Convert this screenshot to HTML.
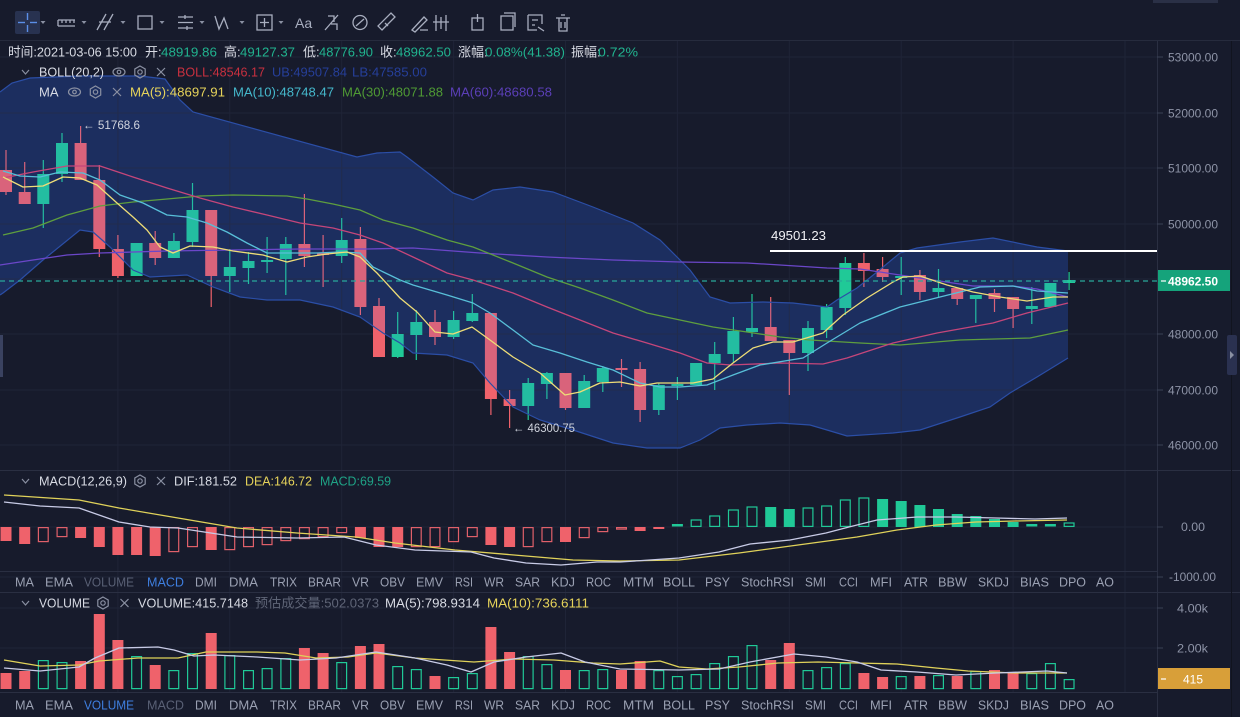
<!DOCTYPE html>
<html><head><meta charset="utf-8"><style>
html,body{margin:0;padding:0;background:#171b2c;width:1240px;height:717px;overflow:hidden}
svg{display:block}
text{font-family:"Liberation Sans","Noto Sans CJK SC",sans-serif}
</style></head><body>
<svg width="1240" height="717" viewBox="0 0 1240 717" xmlns="http://www.w3.org/2000/svg">
<defs>
<path id="band" d="M0,92 L12,83 L30,78 L80,76 L140,76 L165,79 L180,100 L193,112 L357,157 L377,153 L400,152 L407,157 L433,177 L453,193 L473,200 L493,190 L520,187 L553,192 L593,207 L633,223 L660,240 L690,270 L710,297 L730,303 L763,302 L793,303 L827,307 L837,300 L857,288 L877,272 L900,253 L917,248 L960,242 L993,238 L1037,247 L1068,251 L1068,358 L1037,377 L1010,393 L990,407 L960,417 L920,430 L893,433 L847,436 L827,430 L810,425 L780,423 L747,425 L720,428 L700,440 L680,448 L647,448 L613,443 L573,430 L540,420 L513,407 L490,383 L473,363 L447,355 L413,353 L400,343 L383,333 L360,317 L333,307 L300,300 L267,300 L240,297 L213,287 L187,275 L150,277 L133,270 L110,247 L93,232 L80,230 L43,260 L20,280 L3,293 L0,295 Z"/>
</defs>
<rect x="0" y="0" width="1240" height="717" fill="#171b2c"/>
<!-- toolbar -->
<rect x="1153" y="0" width="65" height="3" fill="#2a3046"/>
<line x1="0" y1="40.5" x2="1240" y2="40.5" stroke="#262b3d"/>
<rect x="15" y="11" width="25" height="23" rx="2" fill="#283250"/>
<g stroke="#5b8fe8" stroke-width="1.4"><line x1="18" y1="22.5" x2="25" y2="22.5"/><line x1="30" y1="22.5" x2="37" y2="22.5"/><line x1="27.5" y1="13" x2="27.5" y2="20"/><line x1="27.5" y1="25" x2="27.5" y2="32"/></g>
<g fill="#8a90a2"><polygon points="40.5,21 45.5,21 43,24"/><polygon points="81.5,21 86.5,21 84,24"/><polygon points="120.5,21 125.5,21 123,24"/><polygon points="159.5,21 164.5,21 162,24"/><polygon points="199.5,21 204.5,21 202,24"/><polygon points="239.5,21 244.5,21 242,24"/><polygon points="278.5,21 283.5,21 281,24"/></g>
<g stroke="#a8aebf" stroke-width="1.3" fill="none">
<path d="M58 26 H75 M58 26 V20 M62 20 V23 M66 20 V23 M70 20 V23 M74 20 V23 M58 20 H75"/>
<path d="M97 30 L106 14 M104 30 L113 14 M99 22 L111 22"/>
<rect x="138" y="16" width="14" height="13"/>
<path d="M178 17 H193 M178 22.5 H193 M178 28 H193 M185 15 V19 M187 26 V30"/>
<path d="M215 16 L219 29 L224 18 L228 29"/>
<rect x="257" y="15" width="15" height="15"/><path d="M264.5 18 V27 M260 22.5 H269"/>
<path d="M325 30 L338 15 M328 16 H334 V22 M331 24 H337 V30"/>
<circle cx="360" cy="22.5" r="7"/><path d="M356 26 L364 19"/>
<path d="M382 30 L395 17 L391 13 L378 26 Z M385 23 L388 26"/>
<path d="M412 30 L424 17 L427 20 L415 32 Z M420 30 H428"/>
<path d="M436 15 V31 M441 17 V29 M446 15 V31 M433 22 H449"/>
<rect x="472" y="18" width="11" height="12"/><path d="M477.5 14 V22"/>
<rect x="501" y="16" width="12" height="14"/><path d="M504 13 H515 V27"/>
<path d="M528 15 H542 V24 M528 15 V30 H537 M532 20 H538 M532 25 H535 M538 27 L544 31"/>
<path d="M556 18 H570 M559 18 V31 H567 V18 M561 15 H565 M561 22 V28 M565 22 V28"/>
</g>
<text x="295" y="28" font-size="14" fill="#a8aebf">Aa</text>

<!-- band fill under candles -->
<use href="#band" fill="rgba(30,95,235,0.17)"/>

<!-- grid -->
<g stroke="#1f2437" stroke-width="1">
<line x1="117.9" y1="41" x2="117.9" y2="693"/><line x1="229.8" y1="41" x2="229.8" y2="693"/><line x1="341.7" y1="41" x2="341.7" y2="693"/><line x1="453.6" y1="41" x2="453.6" y2="693"/><line x1="565.5" y1="41" x2="565.5" y2="693"/><line x1="677.4" y1="41" x2="677.4" y2="693"/><line x1="789.3" y1="41" x2="789.3" y2="693"/><line x1="901.2" y1="41" x2="901.2" y2="693"/><line x1="1013.1" y1="41" x2="1013.1" y2="693"/><line x1="1125" y1="41" x2="1125" y2="693"/>
<line x1="0" y1="57" x2="1157" y2="57"/><line x1="0" y1="113" x2="1157" y2="113"/><line x1="0" y1="168" x2="1157" y2="168"/><line x1="0" y1="224" x2="1157" y2="224"/><line x1="0" y1="279" x2="1157" y2="279"/><line x1="0" y1="334" x2="1157" y2="334"/><line x1="0" y1="390" x2="1157" y2="390"/><line x1="0" y1="445" x2="1157" y2="445"/>
<line x1="0" y1="527" x2="1157" y2="527"/><line x1="0" y1="577" x2="1157" y2="577"/>
<line x1="0" y1="608" x2="1157" y2="608"/><line x1="0" y1="648" x2="1157" y2="648"/>
</g>

<!-- candles red -->
<g fill="#ef626b" stroke="#ef626b" stroke-width="1.2">
<line x1="6" y1="150" x2="6" y2="195"/><rect x="0" y="170" width="12" height="22" stroke="none"/>
<line x1="24.7" y1="162" x2="24.7" y2="204"/><rect x="18.7" y="192" width="12" height="12" stroke="none"/>
<line x1="80.6" y1="126" x2="80.6" y2="180"/><rect x="74.6" y="143" width="12" height="37" stroke="none"/>
<line x1="99.3" y1="165" x2="99.3" y2="257"/><rect x="93.3" y="180" width="12" height="69" stroke="none"/>
<line x1="117.9" y1="235" x2="117.9" y2="278"/><rect x="111.9" y="249" width="12" height="27" stroke="none"/>
<line x1="155.2" y1="231" x2="155.2" y2="265"/><rect x="149.2" y="243" width="12" height="15" stroke="none"/>
<line x1="211.2" y1="210" x2="211.2" y2="307"/><rect x="205.2" y="210" width="12" height="66" stroke="none"/>
<line x1="304.4" y1="194" x2="304.4" y2="267"/><rect x="298.4" y="244" width="12" height="12" stroke="none"/>
<line x1="323.1" y1="235" x2="323.1" y2="287"/><rect x="317.1" y="253" width="12" height="2" stroke="none"/>
<line x1="360.4" y1="227" x2="360.4" y2="315"/><rect x="354.4" y="239" width="12" height="68" stroke="none"/>
<line x1="379" y1="298" x2="379" y2="357"/><rect x="373" y="306" width="12" height="51" stroke="none"/>
<line x1="435" y1="310" x2="435" y2="345"/><rect x="429" y="322" width="12" height="15" stroke="none"/>
<line x1="490.9" y1="313" x2="490.9" y2="415"/><rect x="484.9" y="313" width="12" height="86" stroke="none"/>
<line x1="509.6" y1="390" x2="509.6" y2="428"/><rect x="503.6" y="399" width="12" height="7" stroke="none"/>
<line x1="565.5" y1="373" x2="565.5" y2="410"/><rect x="559.5" y="373" width="12" height="35" stroke="none"/>
<line x1="621.5" y1="359" x2="621.5" y2="387"/><rect x="615.5" y="368" width="12" height="2" stroke="none"/>
<line x1="640.1" y1="362" x2="640.1" y2="422"/><rect x="634.1" y="369" width="12" height="41" stroke="none"/>
<line x1="770.7" y1="297" x2="770.7" y2="341"/><rect x="764.7" y="327" width="12" height="14" stroke="none"/>
<line x1="789.3" y1="340" x2="789.3" y2="395"/><rect x="783.3" y="340" width="12" height="13" stroke="none"/>
<line x1="863.9" y1="253" x2="863.9" y2="287"/><rect x="857.9" y="263" width="12" height="8" stroke="none"/>
<line x1="882.6" y1="257" x2="882.6" y2="282"/><rect x="876.6" y="269" width="12" height="8" stroke="none"/>
<line x1="919.9" y1="270" x2="919.9" y2="300"/><rect x="913.9" y="275" width="12" height="17" stroke="none"/>
<line x1="957.2" y1="288" x2="957.2" y2="305"/><rect x="951.2" y="288" width="12" height="11" stroke="none"/>
<line x1="994.5" y1="289" x2="994.5" y2="312"/><rect x="988.5" y="293" width="12" height="6" stroke="none"/>
<line x1="1013.1" y1="297" x2="1013.1" y2="328"/><rect x="1007.1" y="297" width="12" height="12" stroke="none"/>
</g>
<!-- candles green -->
<g fill="#20c997" stroke="#20c997" stroke-width="1.2">
<line x1="43.3" y1="160" x2="43.3" y2="228"/><rect x="37.3" y="174" width="12" height="30" stroke="none"/>
<line x1="62" y1="133" x2="62" y2="182"/><rect x="56" y="143" width="12" height="31" stroke="none"/>
<rect x="130.6" y="243" width="12" height="33" stroke="none"/>
<line x1="173.9" y1="233" x2="173.9" y2="258"/><rect x="167.9" y="241" width="12" height="17" stroke="none"/>
<line x1="192.5" y1="183" x2="192.5" y2="247"/><rect x="186.5" y="210" width="12" height="32" stroke="none"/>
<line x1="229.8" y1="249" x2="229.8" y2="292"/><rect x="223.8" y="267" width="12" height="9" stroke="none"/>
<line x1="248.5" y1="252" x2="248.5" y2="284"/><rect x="242.5" y="261" width="12" height="7" stroke="none"/>
<line x1="267.1" y1="237" x2="267.1" y2="273"/><rect x="261.1" y="260" width="12" height="2" stroke="none"/>
<line x1="285.8" y1="237" x2="285.8" y2="295"/><rect x="279.8" y="244" width="12" height="15" stroke="none"/>
<line x1="341.7" y1="218" x2="341.7" y2="263"/><rect x="335.7" y="240" width="12" height="16" stroke="none"/>
<line x1="397.7" y1="312" x2="397.7" y2="358"/><rect x="391.7" y="334" width="12" height="23" stroke="none"/>
<line x1="416.3" y1="310" x2="416.3" y2="360"/><rect x="410.3" y="322" width="12" height="13" stroke="none"/>
<line x1="453.6" y1="311" x2="453.6" y2="339"/><rect x="447.6" y="320" width="12" height="17" stroke="none"/>
<line x1="472.3" y1="294" x2="472.3" y2="322"/><rect x="466.3" y="313" width="12" height="8" stroke="none"/>
<line x1="528.2" y1="378" x2="528.2" y2="420"/><rect x="522.2" y="383" width="12" height="23" stroke="none"/>
<line x1="546.9" y1="372" x2="546.9" y2="399"/><rect x="540.9" y="373" width="12" height="11" stroke="none"/>
<line x1="584.2" y1="375" x2="584.2" y2="408"/><rect x="578.2" y="381" width="12" height="27" stroke="none"/>
<line x1="602.8" y1="366" x2="602.8" y2="392"/><rect x="596.8" y="368" width="12" height="14" stroke="none"/>
<line x1="658.8" y1="383" x2="658.8" y2="415"/><rect x="652.8" y="385" width="12" height="25" stroke="none"/>
<line x1="677.4" y1="377" x2="677.4" y2="400"/><rect x="671.4" y="384" width="12" height="2" stroke="none"/>
<rect x="690.1" y="363" width="12" height="22" stroke="none"/>
<line x1="714.7" y1="342" x2="714.7" y2="390"/><rect x="708.7" y="354" width="12" height="9" stroke="none"/>
<line x1="733.4" y1="317" x2="733.4" y2="363"/><rect x="727.4" y="331" width="12" height="23" stroke="none"/>
<line x1="752" y1="294" x2="752" y2="337"/><rect x="746" y="328" width="12" height="4" stroke="none"/>
<line x1="808" y1="321" x2="808" y2="371"/><rect x="802" y="328" width="12" height="25" stroke="none"/>
<line x1="826.6" y1="304" x2="826.6" y2="338"/><rect x="820.6" y="307" width="12" height="23" stroke="none"/>
<line x1="845.3" y1="257" x2="845.3" y2="315"/><rect x="839.3" y="263" width="12" height="45" stroke="none"/>
<line x1="901.2" y1="257" x2="901.2" y2="295"/><rect x="895.2" y="276" width="12" height="2" stroke="none"/>
<line x1="938.5" y1="269" x2="938.5" y2="297"/><rect x="932.5" y="288" width="12" height="4" stroke="none"/>
<line x1="975.8" y1="295" x2="975.8" y2="323"/><rect x="969.8" y="295" width="12" height="4" stroke="none"/>
<line x1="1031.8" y1="287" x2="1031.8" y2="324"/><rect x="1025.8" y="306" width="12" height="3" stroke="none"/>
<rect x="1044.4" y="283" width="12" height="24" stroke="none"/>
<line x1="1069.1" y1="272" x2="1069.1" y2="290"/><rect x="1063.1" y="280" width="12" height="3" stroke="none"/>
</g>

<!-- bollinger band overlay -->
<use href="#band" fill="rgba(60,110,240,0.12)"/>
<g fill="none" stroke="#2b4ea6" stroke-width="1.2">
<polyline points="0,92 12,83 30,78 80,76 140,76 165,79 180,100 193,112 357,157 377,153 400,152 407,157 433,177 453,193 473,200 493,190 520,187 553,192 593,207 633,223 660,240 690,270 710,297 730,303 763,302 793,303 827,307 837,300 857,288 877,272 900,253 917,248 960,242 993,238 1037,247 1068,251"/>
<polyline points="1068,358 1037,377 1010,393 990,407 960,417 920,430 893,433 847,436 827,430 810,425 780,423 747,425 720,428 700,440 680,448 647,448 613,443 573,430 540,420 513,407 490,383 473,363 447,355 413,353 400,343 383,333 360,317 333,307 300,300 267,300 240,297 213,287 187,275 150,277 133,270 110,247 93,232 80,230 43,260 20,280 3,293 0,295"/>
</g>

<!-- MA lines -->
<g fill="none" stroke-width="1.3" stroke-linejoin="round">
<polyline stroke="#6b47c9" points="0,265 33,260 67,255 100,253 167,251 233,250 300,249 367,249 413,248 480,253 547,257 613,260 680,262 747,263 780,265 827,268 860,269 900,275 933,280 973,286 1013,286 1037,289 1068,297"/>
<polyline stroke="#5e9e3e" points="3,235 33,228 67,215 100,206 133,202 167,199 200,196 233,195 287,196 307,199 333,204 360,210 383,220 413,228 447,240 473,247 513,263 547,277 580,288 613,300 647,313 680,320 713,327 747,332 780,337 810,340 860,343 900,345 960,340 1030,338 1068,330"/>
<polyline stroke="#c5467a" points="3,178 33,172 67,166 100,166 133,177 167,188 200,198 233,207 267,215 300,223 333,228 360,235 383,243 413,257 447,273 473,280 513,293 547,307 580,320 613,333 647,343 680,353 707,363 730,365 780,363 823,364 847,358 893,343 937,333 993,323 1027,313 1068,303"/>
<polyline stroke="#58bfd8" points="3,171 20,176 40,177 60,172 83,173 100,180 120,195 143,203 167,215 187,217 207,223 227,232 247,243 267,253 293,253 317,253 340,252 360,253 373,267 400,280 413,285 447,295 473,303 490,313 513,330 533,345 560,353 587,362 613,370 640,383 660,387 680,387 707,385 733,375 760,365 803,358 827,343 860,323 900,307 940,297 980,287 1013,286 1037,291 1068,293"/>
<polyline stroke="#eedd77" points="3,177 23,187 43,186 63,177 80,178 97,185 117,203 133,217 147,230 160,247 173,253 190,246 213,247 233,251 263,255 287,262 307,257 327,254 347,252 360,257 377,273 400,298 417,312 435,332 453,334 472,327 490,340 513,357 540,373 565,395 580,392 600,383 620,382 640,386 657,383 673,383 693,383 713,379 733,363 753,348 773,342 793,342 823,333 843,315 867,298 893,282 903,277 920,276 947,285 973,292 1000,297 1027,301 1053,297 1068,297"/>
</g>

<!-- price markers -->
<line x1="0" y1="281" x2="1157" y2="281" stroke="#2aa89a" stroke-width="1.2" stroke-dasharray="5,4"/>
<line x1="770" y1="251" x2="1157" y2="251" stroke="#ffffff" stroke-width="2"/>
<text x="771" y="240" font-size="13" fill="#f0f0f4" textLength="55" lengthAdjust="spacingAndGlyphs">49501.23</text>
<text x="83" y="129" font-size="12" fill="#d0d4de" textLength="57" lengthAdjust="spacingAndGlyphs">← 51768.6</text>
<text x="513" y="432" font-size="12" fill="#d0d4de" textLength="62" lengthAdjust="spacingAndGlyphs">← 46300.75</text>

<!-- MACD histogram -->
<g fill="#ef626b">
<rect x="0.5" y="527" width="11" height="14"/><rect x="19.2" y="527" width="11" height="17"/><rect x="75.1" y="527" width="11" height="11"/><rect x="93.8" y="527" width="11" height="20"/><rect x="112.4" y="527" width="11" height="28"/><rect x="131.1" y="527" width="11" height="28"/><rect x="149.7" y="527" width="11" height="29"/><rect x="205.7" y="527" width="11" height="23"/><rect x="354.9" y="527" width="11" height="11"/><rect x="373.5" y="527" width="11" height="20"/><rect x="392.2" y="527" width="11" height="20"/><rect x="485.4" y="527" width="11" height="18"/><rect x="504.1" y="527" width="11" height="20"/><rect x="560" y="527" width="11" height="15"/><rect x="634.6" y="527" width="11" height="4"/><rect x="653.3" y="527" width="11" height="2"/>
</g>
<g fill="none" stroke="#e0606a" stroke-width="1.2">
<rect x="38.4" y="527.6" width="9.8" height="14"/><rect x="57.1" y="527.6" width="9.8" height="9"/><rect x="168.9" y="527.6" width="9.8" height="24"/><rect x="187.6" y="527.6" width="9.8" height="19"/><rect x="224.9" y="527.6" width="9.8" height="22"/><rect x="243.6" y="527.6" width="9.8" height="19"/><rect x="262.2" y="527.6" width="9.8" height="17"/><rect x="280.9" y="527.6" width="9.8" height="13"/><rect x="299.5" y="527.6" width="9.8" height="11"/><rect x="318.2" y="527.6" width="9.8" height="9"/><rect x="336.8" y="527.6" width="9.8" height="5"/><rect x="411.4" y="527.6" width="9.8" height="19"/><rect x="430.1" y="527.6" width="9.8" height="19"/><rect x="448.7" y="527.6" width="9.8" height="14"/><rect x="467.4" y="527.6" width="9.8" height="9"/><rect x="523.3" y="527.6" width="9.8" height="19"/><rect x="542" y="527.6" width="9.8" height="14"/><rect x="579.3" y="527.6" width="9.8" height="10"/><rect x="597.9" y="527.6" width="9.8" height="4"/><rect x="616.6" y="527.6" width="9.8" height="1.5"/>
</g>
<g fill="#20c997">
<rect x="671.9" y="524" width="11" height="2.5"/><rect x="765.2" y="507" width="11" height="20"/><rect x="783.8" y="509" width="11" height="18"/><rect x="877.1" y="499" width="11" height="28"/><rect x="895.7" y="501" width="11" height="26"/><rect x="914.4" y="505" width="11" height="22"/><rect x="933" y="509" width="11" height="18"/><rect x="951.7" y="514" width="11" height="13"/><rect x="970.3" y="516" width="11" height="11"/><rect x="989" y="519" width="11" height="8"/><rect x="1007.6" y="522" width="11" height="5"/><rect x="1026.3" y="524" width="11" height="2.5"/><rect x="1044.9" y="524" width="11" height="2.5"/>
</g>
<g fill="none" stroke="#20c997" stroke-width="1.2">
<rect x="691.2" y="520" width="9.8" height="6.4"/><rect x="709.8" y="516" width="9.8" height="10.4"/><rect x="728.5" y="510" width="9.8" height="16.4"/><rect x="747.1" y="507" width="9.8" height="19.4"/><rect x="803.1" y="508" width="9.8" height="18.4"/><rect x="821.7" y="506" width="9.8" height="20.4"/><rect x="840.4" y="500" width="9.8" height="26.4"/><rect x="859" y="498" width="9.8" height="28.4"/><rect x="1064.2" y="523" width="9.8" height="3.4"/>
</g>
<g fill="none" stroke-width="1.3" stroke-linejoin="round">
<polyline stroke="#e0d25a" points="4,495 79,500 119,508 178,518 237,528 297,533 356,537 395,543 455,550 514,555 573,560 620,561 679,560 739,553 798,545 857,537 897,530 936,525 976,522 1015,521 1067,520"/>
<polyline stroke="#c8cbe6" points="4,502 40,506 79,508 119,522 150,527 178,528 237,537 297,538 344,537 376,545 415,550 471,552 494,558 526,563 561,565 597,562 620,562 679,558 719,552 750,544 790,540 826,533 849,527 877,520 917,517 956,517 996,518 1035,519 1067,518"/>
</g>

<!-- Volume bars -->
<g fill="#ef626b">
<rect x="0.5" y="673" width="11" height="16"/><rect x="19.2" y="671" width="11" height="18"/><rect x="75.1" y="661" width="11" height="28"/><rect x="93.8" y="614" width="11" height="75"/><rect x="112.4" y="640" width="11" height="49"/><rect x="149.7" y="665" width="11" height="24"/><rect x="205.7" y="633" width="11" height="56"/><rect x="298.9" y="648" width="11" height="41"/><rect x="317.6" y="653" width="11" height="36"/><rect x="354.9" y="646" width="11" height="43"/><rect x="373.5" y="644" width="11" height="45"/><rect x="429.5" y="676" width="11" height="13"/><rect x="485.4" y="627" width="11" height="62"/><rect x="504.1" y="652" width="11" height="37"/><rect x="560" y="670" width="11" height="19"/><rect x="616" y="670" width="11" height="19"/><rect x="634.6" y="661" width="11" height="28"/><rect x="765.2" y="660" width="11" height="29"/><rect x="783.8" y="643" width="11" height="46"/><rect x="858.4" y="673" width="11" height="16"/><rect x="877.1" y="677" width="11" height="12"/><rect x="914.4" y="676" width="11" height="13"/><rect x="951.7" y="676" width="11" height="13"/><rect x="989" y="670" width="11" height="19"/><rect x="1007.6" y="673" width="11" height="16"/>
</g>
<g fill="none" stroke="#20c997" stroke-width="1.2">
<rect x="38.4" y="660.6" width="9.8" height="28"/><rect x="57.1" y="662.6" width="9.8" height="26"/><rect x="131.7" y="656.6" width="9.8" height="32"/><rect x="168.9" y="670.6" width="9.8" height="18"/><rect x="187.6" y="653.6" width="9.8" height="35"/><rect x="224.9" y="655.6" width="9.8" height="33"/><rect x="243.6" y="670.6" width="9.8" height="18"/><rect x="262.2" y="668.6" width="9.8" height="20"/><rect x="280.9" y="658.6" width="9.8" height="30"/><rect x="336.8" y="662.6" width="9.8" height="26"/><rect x="392.8" y="666.6" width="9.8" height="22"/><rect x="411.4" y="669.6" width="9.8" height="19"/><rect x="448.7" y="677.6" width="9.8" height="11"/><rect x="467.4" y="673.6" width="9.8" height="15"/><rect x="523.3" y="656.6" width="9.8" height="32"/><rect x="542" y="664.6" width="9.8" height="24"/><rect x="579.3" y="670.6" width="9.8" height="18"/><rect x="597.9" y="669.6" width="9.8" height="19"/><rect x="653.9" y="670.6" width="9.8" height="18"/><rect x="672.5" y="676.6" width="9.8" height="12"/><rect x="691.2" y="674.6" width="9.8" height="14"/><rect x="709.8" y="663.6" width="9.8" height="25"/><rect x="728.5" y="656.6" width="9.8" height="32"/><rect x="747.1" y="645.6" width="9.8" height="43"/><rect x="803.1" y="670.6" width="9.8" height="18"/><rect x="821.7" y="667.6" width="9.8" height="21"/><rect x="840.4" y="663.6" width="9.8" height="25"/><rect x="896.3" y="676.6" width="9.8" height="12"/><rect x="933.6" y="675.6" width="9.8" height="13"/><rect x="970.9" y="671.6" width="9.8" height="17"/><rect x="1026.9" y="673.6" width="9.8" height="15"/><rect x="1045.5" y="663.6" width="9.8" height="25"/><rect x="1064.2" y="679.6" width="9.8" height="9"/>
</g>
<g fill="none" stroke-width="1.3" stroke-linejoin="round">
<polyline stroke="#e0d25a" points="4,660 40,666 79,665 99,661 138,658 178,658 206,652 257,652 285,653 316,658 348,657 376,653 415,658 474,662 514,659 554,660 593,663 620,664 660,661 679,667 707,669 739,667 778,663 818,662 857,663 897,664 936,668 968,671 1015,673 1067,673"/>
<polyline stroke="#c8cbe6" points="4,668 40,671 79,667 95,658 119,648 158,647 174,650 194,656 214,655 257,657 300,660 336,658 376,652 415,658 447,665 471,672 494,662 526,657 561,653 585,662 620,669 679,670 719,669 750,662 794,654 826,657 857,662 881,670 917,672 956,675 996,673 1047,671 1067,673"/>
</g>

<!-- separators -->
<g stroke="#2a2f42" stroke-width="1">
<line x1="0" y1="470.5" x2="1240" y2="470.5"/><line x1="0" y1="571.5" x2="1157" y2="571.5"/><line x1="0" y1="592.5" x2="1240" y2="592.5"/><line x1="0" y1="692.5" x2="1157" y2="692.5"/>
<line x1="1157.5" y1="41" x2="1157.5" y2="717"/>
</g>
<line x1="1231.5" y1="41" x2="1231.5" y2="717" stroke="#11141f"/>
<rect x="0" y="335" width="3" height="42" fill="#3a4260"/>
<rect x="1227" y="335" width="10" height="40" rx="2" fill="#2a3150"/>
<polygon points="1230,351 1234,355 1230,359" fill="#8a90a2"/>

<!-- axis labels -->
<g stroke="#3a4055"><line x1="1157" y1="57" x2="1163" y2="57"/><line x1="1157" y1="113" x2="1163" y2="113"/><line x1="1157" y1="168" x2="1163" y2="168"/><line x1="1157" y1="224" x2="1163" y2="224"/><line x1="1157" y1="334" x2="1163" y2="334"/><line x1="1157" y1="390" x2="1163" y2="390"/><line x1="1157" y1="445" x2="1163" y2="445"/><line x1="1157" y1="527" x2="1163" y2="527"/><line x1="1157" y1="577" x2="1163" y2="577"/><line x1="1157" y1="608" x2="1163" y2="608"/><line x1="1157" y1="648" x2="1163" y2="648"/></g>
<g font-size="12" fill="#8d93a6">
<text x="1168" y="61.3" textLength="50" lengthAdjust="spacingAndGlyphs">53000.00</text>
<text x="1168" y="117.3" textLength="50" lengthAdjust="spacingAndGlyphs">52000.00</text>
<text x="1168" y="172.3" textLength="50" lengthAdjust="spacingAndGlyphs">51000.00</text>
<text x="1168" y="228.3" textLength="50" lengthAdjust="spacingAndGlyphs">50000.00</text>
<text x="1168" y="338.3" textLength="50" lengthAdjust="spacingAndGlyphs">48000.00</text>
<text x="1168" y="394.3" textLength="50" lengthAdjust="spacingAndGlyphs">47000.00</text>
<text x="1168" y="449.3" textLength="50" lengthAdjust="spacingAndGlyphs">46000.00</text>
<text x="1181" y="531" textLength="24" lengthAdjust="spacingAndGlyphs">0.00</text>
<text x="1169" y="581" textLength="47" lengthAdjust="spacingAndGlyphs">-1000.00</text>
<text x="1177" y="612.3" textLength="31" lengthAdjust="spacingAndGlyphs">4.00k</text>
<text x="1177" y="652.3" textLength="31" lengthAdjust="spacingAndGlyphs">2.00k</text>
</g>
<rect x="1158" y="270" width="72" height="21" fill="#15a37b"/>
<line x1="1161" y1="281" x2="1166" y2="281" stroke="#fff" stroke-width="1.2"/>
<text x="1168" y="285.5" font-size="12" font-weight="bold" fill="#ffffff" textLength="50" lengthAdjust="spacingAndGlyphs">48962.50</text>
<rect x="1158" y="668" width="72" height="21" fill="#d89f39"/>
<line x1="1161" y1="679" x2="1166" y2="679" stroke="#fff" stroke-width="1.2"/>
<text x="1183" y="683.5" font-size="12" fill="#ffffff" textLength="20" lengthAdjust="spacingAndGlyphs">415</text>

<!-- header legends -->
<g font-size="13">
<g fill="#d8dbe4">
<text x="8" y="56.5" textLength="129" lengthAdjust="spacingAndGlyphs">时间:2021-03-06 15:00</text>
<text x="145" y="56.5">开:</text><text x="224" y="56.5">高:</text><text x="303" y="56.5">低:</text><text x="380" y="56.5">收:</text><text x="458" y="56.5">涨幅:</text><text x="571" y="56.5">振幅:</text>
</g>
<g fill="#21b38f">
<text x="161" y="56.5" textLength="56" lengthAdjust="spacingAndGlyphs">48919.86</text>
<text x="240" y="56.5" textLength="55" lengthAdjust="spacingAndGlyphs">49127.37</text>
<text x="319" y="56.5" textLength="54" lengthAdjust="spacingAndGlyphs">48776.90</text>
<text x="396" y="56.5" textLength="55" lengthAdjust="spacingAndGlyphs">48962.50</text>
<text x="485" y="56.5" textLength="80" lengthAdjust="spacingAndGlyphs">0.08%(41.38)</text>
<text x="598" y="56.5" textLength="40" lengthAdjust="spacingAndGlyphs">0.72%</text>
</g>
<g fill="none" stroke="#8a90a2" stroke-width="1.2">
<polyline points="22,70 25.5,74 29,70"/>
<ellipse cx="119" cy="72" rx="6" ry="4"/><circle cx="119" cy="72" r="1.8"/>
<polygon points="140,66 145.2,69 145.2,75 140,78 134.8,75 134.8,69"/><circle cx="140" cy="72" r="2.2"/>
<path d="M157 68 L165 76 M165 68 L157 76"/>
<ellipse cx="74.5" cy="92" rx="6" ry="4"/><circle cx="74.5" cy="92" r="1.8"/>
<polygon points="95.5,86 100.7,89 100.7,95 95.5,98 90.3,95 90.3,89"/><circle cx="95.5" cy="92" r="2.2"/>
<path d="M113 88 L121 96 M121 88 L113 96"/>
<polyline points="22,479 25.5,483 29,479"/>
<polygon points="140,475 145.2,478 145.2,484 140,487 134.8,484 134.8,478"/><circle cx="140" cy="481" r="2.2"/>
<path d="M157 477 L165 485 M165 477 L157 485"/>
<polyline points="22,601 25.5,605 29,601"/>
<polygon points="103,597 108.2,600 108.2,606 103,609 97.8,606 97.8,600"/><circle cx="103" cy="603" r="2.2"/>
<path d="M120.5 599 L128.5 607 M128.5 599 L120.5 607"/>
</g>
<text x="39" y="76.5" fill="#d8dbe4" textLength="65" lengthAdjust="spacingAndGlyphs">BOLL(20,2)</text>
<text x="177" y="76.5" fill="#c8303f" textLength="88" lengthAdjust="spacingAndGlyphs">BOLL:48546.17</text>
<text x="272" y="76.5" fill="#263f9a" textLength="75" lengthAdjust="spacingAndGlyphs">UB:49507.84</text>
<text x="352" y="76.5" fill="#263f9a" textLength="75" lengthAdjust="spacingAndGlyphs">LB:47585.00</text>
<text x="39" y="96.5" fill="#d8dbe4">MA</text>
<text x="130" y="96.5" fill="#e6d35a" textLength="95" lengthAdjust="spacingAndGlyphs">MA(5):48697.91</text>
<text x="233" y="96.5" fill="#45b8cc" textLength="101" lengthAdjust="spacingAndGlyphs">MA(10):48748.47</text>
<text x="342" y="96.5" fill="#4f9a34" textLength="101" lengthAdjust="spacingAndGlyphs">MA(30):48071.88</text>
<text x="450" y="96.5" fill="#5b3fb8" textLength="102" lengthAdjust="spacingAndGlyphs">MA(60):48680.58</text>
<text x="39" y="485.5" fill="#d8dbe4" textLength="88" lengthAdjust="spacingAndGlyphs">MACD(12,26,9)</text>
<text x="174" y="485.5" fill="#d8dbe4" textLength="63" lengthAdjust="spacingAndGlyphs">DIF:181.52</text>
<text x="245" y="485.5" fill="#e6d35a" textLength="67" lengthAdjust="spacingAndGlyphs">DEA:146.72</text>
<text x="320" y="485.5" fill="#1fa386" textLength="71" lengthAdjust="spacingAndGlyphs">MACD:69.59</text>
<text x="39" y="607.5" fill="#d8dbe4" textLength="51" lengthAdjust="spacingAndGlyphs">VOLUME</text>
<text x="138" y="607.5" fill="#d8dbe4" textLength="110" lengthAdjust="spacingAndGlyphs">VOLUME:415.7148</text>
<text x="255" y="607.5" fill="#5f6577" textLength="124" lengthAdjust="spacingAndGlyphs">预估成交量:502.0373</text>
<text x="385" y="607.5" fill="#d8dbe4" textLength="95" lengthAdjust="spacingAndGlyphs">MA(5):798.9314</text>
<text x="487" y="607.5" fill="#e6d35a" textLength="102" lengthAdjust="spacingAndGlyphs">MA(10):736.6111</text>
</g>

<!-- tabs rows -->
<g font-size="13" fill="#9aa0b2">
<text x="15" y="586.5" textLength="19" lengthAdjust="spacingAndGlyphs">MA</text>
<text x="45" y="586.5" textLength="28" lengthAdjust="spacingAndGlyphs">EMA</text>
<text x="84" y="586.5" fill="#596075" textLength="50" lengthAdjust="spacingAndGlyphs">VOLUME</text>
<text x="147" y="586.5" fill="#3f7fe0" textLength="37" lengthAdjust="spacingAndGlyphs">MACD</text>
<text x="195" y="586.5" textLength="22" lengthAdjust="spacingAndGlyphs">DMI</text>
<text x="229" y="586.5" textLength="29" lengthAdjust="spacingAndGlyphs">DMA</text>
<text x="270" y="586.5" textLength="27" lengthAdjust="spacingAndGlyphs">TRIX</text>
<text x="308" y="586.5" textLength="33" lengthAdjust="spacingAndGlyphs">BRAR</text>
<text x="352" y="586.5" textLength="17" lengthAdjust="spacingAndGlyphs">VR</text>
<text x="380" y="586.5" textLength="25" lengthAdjust="spacingAndGlyphs">OBV</text>
<text x="416" y="586.5" textLength="27" lengthAdjust="spacingAndGlyphs">EMV</text>
<text x="455" y="586.5" textLength="18" lengthAdjust="spacingAndGlyphs">RSI</text>
<text x="484" y="586.5" textLength="20" lengthAdjust="spacingAndGlyphs">WR</text>
<text x="515" y="586.5" textLength="25" lengthAdjust="spacingAndGlyphs">SAR</text>
<text x="551" y="586.5" textLength="24" lengthAdjust="spacingAndGlyphs">KDJ</text>
<text x="586" y="586.5" textLength="25" lengthAdjust="spacingAndGlyphs">ROC</text>
<text x="623" y="586.5" textLength="31" lengthAdjust="spacingAndGlyphs">MTM</text>
<text x="663" y="586.5" textLength="32" lengthAdjust="spacingAndGlyphs">BOLL</text>
<text x="705" y="586.5" textLength="25" lengthAdjust="spacingAndGlyphs">PSY</text>
<text x="741" y="586.5" textLength="53" lengthAdjust="spacingAndGlyphs">StochRSI</text>
<text x="805" y="586.5" textLength="21" lengthAdjust="spacingAndGlyphs">SMI</text>
<text x="839" y="586.5" textLength="19" lengthAdjust="spacingAndGlyphs">CCI</text>
<text x="870" y="586.5" textLength="22" lengthAdjust="spacingAndGlyphs">MFI</text>
<text x="904" y="586.5" textLength="24" lengthAdjust="spacingAndGlyphs">ATR</text>
<text x="938" y="586.5" textLength="29" lengthAdjust="spacingAndGlyphs">BBW</text>
<text x="978" y="586.5" textLength="31" lengthAdjust="spacingAndGlyphs">SKDJ</text>
<text x="1020" y="586.5" textLength="29" lengthAdjust="spacingAndGlyphs">BIAS</text>
<text x="1059" y="586.5" textLength="27" lengthAdjust="spacingAndGlyphs">DPO</text>
<text x="1096" y="586.5" textLength="18" lengthAdjust="spacingAndGlyphs">AO</text>

<text x="15" y="709.5" textLength="19" lengthAdjust="spacingAndGlyphs">MA</text>
<text x="45" y="709.5" textLength="28" lengthAdjust="spacingAndGlyphs">EMA</text>
<text x="84" y="709.5" fill="#3f7fe0" textLength="50" lengthAdjust="spacingAndGlyphs">VOLUME</text>
<text x="147" y="709.5" fill="#596075" textLength="37" lengthAdjust="spacingAndGlyphs">MACD</text>
<text x="195" y="709.5" textLength="22" lengthAdjust="spacingAndGlyphs">DMI</text>
<text x="229" y="709.5" textLength="29" lengthAdjust="spacingAndGlyphs">DMA</text>
<text x="270" y="709.5" textLength="27" lengthAdjust="spacingAndGlyphs">TRIX</text>
<text x="308" y="709.5" textLength="33" lengthAdjust="spacingAndGlyphs">BRAR</text>
<text x="352" y="709.5" textLength="17" lengthAdjust="spacingAndGlyphs">VR</text>
<text x="380" y="709.5" textLength="25" lengthAdjust="spacingAndGlyphs">OBV</text>
<text x="416" y="709.5" textLength="27" lengthAdjust="spacingAndGlyphs">EMV</text>
<text x="455" y="709.5" textLength="18" lengthAdjust="spacingAndGlyphs">RSI</text>
<text x="484" y="709.5" textLength="20" lengthAdjust="spacingAndGlyphs">WR</text>
<text x="515" y="709.5" textLength="25" lengthAdjust="spacingAndGlyphs">SAR</text>
<text x="551" y="709.5" textLength="24" lengthAdjust="spacingAndGlyphs">KDJ</text>
<text x="586" y="709.5" textLength="25" lengthAdjust="spacingAndGlyphs">ROC</text>
<text x="623" y="709.5" textLength="31" lengthAdjust="spacingAndGlyphs">MTM</text>
<text x="663" y="709.5" textLength="32" lengthAdjust="spacingAndGlyphs">BOLL</text>
<text x="705" y="709.5" textLength="25" lengthAdjust="spacingAndGlyphs">PSY</text>
<text x="741" y="709.5" textLength="53" lengthAdjust="spacingAndGlyphs">StochRSI</text>
<text x="805" y="709.5" textLength="21" lengthAdjust="spacingAndGlyphs">SMI</text>
<text x="839" y="709.5" textLength="19" lengthAdjust="spacingAndGlyphs">CCI</text>
<text x="870" y="709.5" textLength="22" lengthAdjust="spacingAndGlyphs">MFI</text>
<text x="904" y="709.5" textLength="24" lengthAdjust="spacingAndGlyphs">ATR</text>
<text x="938" y="709.5" textLength="29" lengthAdjust="spacingAndGlyphs">BBW</text>
<text x="978" y="709.5" textLength="31" lengthAdjust="spacingAndGlyphs">SKDJ</text>
<text x="1020" y="709.5" textLength="29" lengthAdjust="spacingAndGlyphs">BIAS</text>
<text x="1059" y="709.5" textLength="27" lengthAdjust="spacingAndGlyphs">DPO</text>
<text x="1096" y="709.5" textLength="18" lengthAdjust="spacingAndGlyphs">AO</text>
</g>
</svg>
</body></html>
